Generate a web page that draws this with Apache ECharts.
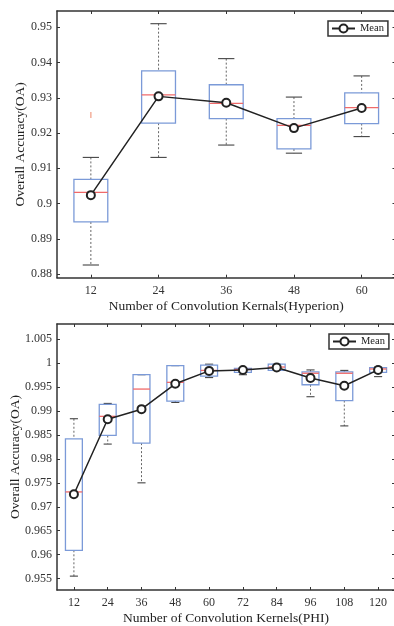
<!DOCTYPE html>
<html><head><meta charset="utf-8">
<script src="https://cdn.jsdelivr.net/npm/echarts@6/dist/echarts.min.js"></script>
<style>html,body{margin:0;padding:0;background:#fff}#c{width:394px;height:626px}</style>
</head><body><div id="c"></div>
<script>
// ---- Top chart (Hyperion) ----
const topCats = ['12', '24', '36', '48', '60'];
const topLow  = [0.8826, 0.9131, 0.9166, 0.9143, 0.9190];
const topQ1   = [0.8948, 0.9228, 0.9241, 0.9155, 0.9227];
const topMed  = [0.9032, 0.9308, 0.9284, 0.9222, 0.9272];
const topQ3   = [0.9069, 0.9376, 0.9337, 0.9241, 0.9314];
const topHigh = [0.9131, 0.9510, 0.9411, 0.9302, 0.9362];
const topMean = [0.9024, 0.9304, 0.9286, 0.9214, 0.9271];
const topOutlierCat = [0];
const topOutlierVal = [0.9251];

// ---- Bottom chart (PHI) ----
const botCats = ['12', '24', '36', '48', '60', '72', '84', '96', '108', '120'];
const botLow  = [0.9555, 0.9831, 0.9750, 0.9918, 0.9970, 0.9976, 0.9985, 0.9930, 0.9869, 0.9972];
const botQ1   = [0.9609, 0.9849, 0.9833, 0.9921, 0.9973, 0.9981, 0.9985, 0.9955, 0.9922, 0.9981];
const botMed  = [0.9731, 0.9889, 0.9946, 0.9960, 0.9985, 0.9987, 0.9992, 0.9979, 0.9979, 0.9988];
const botQ3   = [0.9842, 0.9914, 0.9976, 0.9995, 0.9996, 0.9989, 0.9998, 0.9982, 0.9982, 0.9991];
const botHigh = [0.9884, 0.9916, 0.9976, 0.9995, 0.9998, 0.9990, 0.9998, 0.9986, 0.9985, 0.9992];
const botMean = [0.9726, 0.9883, 0.9904, 0.9957, 0.9984, 0.9986, 0.9991, 0.9969, 0.9953, 0.9986];

const topXName = 'Number of Convolution Kernals(Hyperion)';
const botXName = 'Number of Convolution Kernels(PHI)';
const yName = 'Overall Accuracy(OA)';

const FONT = '"Liberation Serif", "Times New Roman", serif';
const AX = '#333';

function boxData(low, q1, med, q3, high) {
  return low.map((v, i) => [i, v, q1[i], med[i], q3[i], high[i]]);
}

function boxRender(params, api) {
  const x = api.value(0);
  const pLow = api.coord([x, api.value(1)]);
  const pQ1 = api.coord([x, api.value(2)]);
  const pMed = api.coord([x, api.value(3)]);
  const pQ3 = api.coord([x, api.value(4)]);
  const pHigh = api.coord([x, api.value(5)]);
  const band = api.size([1, 0])[0];
  const hw = band * 0.25, cw = band * 0.12;
  const cx = pMed[0];
  const dash = { stroke: '#666', lineWidth: 1, lineDash: [2, 2] };
  const cap = { stroke: '#444', lineWidth: 1.1 };
  return { type: 'group', children: [
    { type: 'line', shape: { x1: cx, y1: pHigh[1], x2: cx, y2: pQ3[1] }, style: dash },
    { type: 'line', shape: { x1: cx, y1: pQ1[1], x2: cx, y2: pLow[1] }, style: dash },
    { type: 'line', shape: { x1: cx - cw, y1: pHigh[1], x2: cx + cw, y2: pHigh[1] }, style: cap },
    { type: 'line', shape: { x1: cx - cw, y1: pLow[1], x2: cx + cw, y2: pLow[1] }, style: cap },
    { type: 'rect', shape: { x: cx - hw, y: pQ3[1], width: 2 * hw, height: pQ1[1] - pQ3[1] },
      style: { fill: 'none', stroke: '#7b9ad8', lineWidth: 1.3 } },
    { type: 'line', shape: { x1: cx - hw, y1: pMed[1], x2: cx + hw, y2: pMed[1] },
      style: { stroke: '#f06a6a', lineWidth: 1.3 } }
  ]};
}

function outlierRender(params, api) {
  const p = api.coord([api.value(0), api.value(1)]);
  return { type: 'group', children: [
    { type: 'line', shape: { x1: p[0], y1: p[1] - 3, x2: p[0], y2: p[1] + 3 }, style: { stroke: '#f4b09c', lineWidth: 1.5 } }
  ]};
}

function catAxis(gi, cats, pos, name, gap) {
  const main = pos === 'bottom';
  return {
    type: 'category', gridIndex: gi, data: cats, position: pos, boundaryGap: true,
    name: main ? name : '', nameLocation: 'middle', nameGap: gap, nameMoveOverlap: false,
    nameTextStyle: { fontFamily: FONT, fontSize: 13.5, color: '#222' },
    axisLine: { show: true, lineStyle: { color: AX, width: 1.5 } },
    axisTick: { show: true, inside: true, alignWithLabel: true, length: 3, lineStyle: { color: AX } },
    axisLabel: { show: main, fontFamily: FONT, fontSize: 12, color: '#333', margin: 7 },
    splitLine: { show: false }
  };
}

function valAxis(gi, min, max, split, pos, gap) {
  const main = pos === 'left';
  return {
    type: 'value', gridIndex: gi, min: min, max: max, splitNumber: split, position: pos, scale: true,
    name: main ? yName : '', nameLocation: 'middle', nameGap: gap, nameMoveOverlap: false,
    nameTextStyle: { fontFamily: FONT, fontSize: 13.5, color: '#222' },
    axisLine: { show: true, lineStyle: { color: AX, width: 1.5 } },
    axisTick: { show: true, inside: true, length: 3, lineStyle: { color: AX } },
    axisLabel: { show: main, fontFamily: FONT, fontSize: 12, color: '#333', margin: 5,
      showMinLabel: false, showMaxLabel: false },
    splitLine: { show: false }
  };
}

const legendCommon = {
  data: ['Mean'], orient: 'horizontal', itemWidth: 23, itemHeight: 10,
  borderColor: '#333', borderWidth: 1.5, padding: [2, 4, 2, 3], backgroundColor: '#fff',
  textStyle: { fontFamily: FONT, fontSize: 10.5, color: '#222' }
};

const meanStyle = {
  type: 'line', name: 'Mean', symbol: 'emptyCircle', symbolSize: 8, z: 5,
  lineStyle: { color: '#222', width: 1.5 },
  itemStyle: { color: '#222', borderColor: '#222', borderWidth: 1.5 }
};

const chart = echarts.init(document.getElementById('c'), null, { renderer: 'canvas' });
chart.setOption({
  animation: false,
  backgroundColor: '#fff',
  grid: [
    { left: 57, top: 11, width: 338.5, height: 266.7, containLabel: false, outerBoundsMode: 'none' },
    { left: 57, top: 324, width: 338, height: 266, containLabel: false, outerBoundsMode: 'none' }
  ],
  xAxis: [
    catAxis(0, topCats, 'bottom', topXName, 22),
    catAxis(0, topCats, 'top', '', 0),
    catAxis(1, botCats, 'bottom', botXName, 21),
    catAxis(1, botCats, 'top', '', 0)
  ],
  yAxis: [
    valAxis(0, 0.879, 0.9546, 8, 'left', 30),
    valAxis(0, 0.879, 0.9546, 8, 'right', 0),
    valAxis(1, 0.9526, 1.0082, 11, 'left', 35),
    valAxis(1, 0.9526, 1.0082, 11, 'right', 0)
  ],
  legend: [
    Object.assign({}, legendCommon, { left: 328, top: 21 }),
    Object.assign({}, legendCommon, { left: 329, top: 334 })
  ],
  series: [
    { type: 'custom', xAxisIndex: 0, yAxisIndex: 0, renderItem: boxRender,
      data: boxData(topLow, topQ1, topMed, topQ3, topHigh), encode: { x: 0, y: [1, 2, 3, 4, 5] }, z: 2 },
    { type: 'custom', xAxisIndex: 0, yAxisIndex: 0, renderItem: outlierRender,
      data: topOutlierCat.map((c, i) => [c, topOutlierVal[i]]), encode: { x: 0, y: 1 }, z: 2 },
    Object.assign({}, meanStyle, { xAxisIndex: 0, yAxisIndex: 0, data: topMean }),
    { type: 'custom', xAxisIndex: 2, yAxisIndex: 2, renderItem: boxRender,
      data: boxData(botLow, botQ1, botMed, botQ3, botHigh), encode: { x: 0, y: [1, 2, 3, 4, 5] }, z: 2 },
    Object.assign({}, meanStyle, { xAxisIndex: 2, yAxisIndex: 2, data: botMean })
  ]
});
</script></body></html>
